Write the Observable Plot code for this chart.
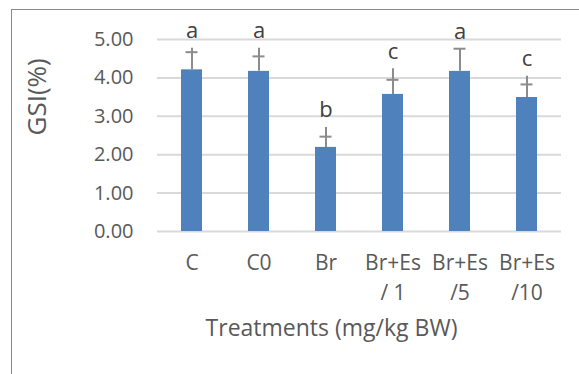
<!DOCTYPE html>
<html>
<head>
<meta charset="utf-8">
<script src="https://cdn.jsdelivr.net/npm/d3@7"></script>
<script src="https://cdn.jsdelivr.net/npm/@observablehq/plot@0.6"></script>
<style>
  html, body { margin: 0; padding: 0; background: #fff; }
  #wrap { position: relative; width: 579px; height: 374px; overflow: hidden; }
  #frame { position: absolute; left: 11px; top: 9px; width: 600px; height: 400px;
           border-left: 1.5px solid #8a8a8a; border-top: 1.5px solid #8a8a8a; box-sizing: border-box; }
  #chart { position: absolute; left: 0; top: 0; }
</style>
</head>
<body>
<div id="wrap"><div id="frame"></div><div id="chart"></div></div>
<script>
const categories = ["C", "C0", "Br", "Br+Es/1", "Br+Es/5", "Br+Es/10"];
const tickLabels = ["C", "C0", "Br", "Br+Es\n/ 1", "Br+Es\n/5", "Br+Es\n/10"];
const means      = [4.21, 4.17, 2.19, 3.57, 4.17, 3.49];
const capValues  = [4.67, 4.56, 2.47, 3.95, 4.76, 3.83];
const whiskerTop = [4.77, 4.77, 2.71, 4.24, 4.76, 4.04];
const letters    = ["a", "a", "b", "c", "a", "c"];
const yTicks     = [0, 1, 2, 3, 4, 5];

const data = categories.map((c, i) => ({
  cat: c, mean: means[i], cap: capValues[i], top: whiskerTop[i], letter: letters[i]
}));
const labelOf = new Map(categories.map((c, i) => [c, tickLabels[i]]));

const textColor = "#595959";
const font = "'Open Sans', sans-serif";

const chart = Plot.plot({
  width: 579,
  height: 374,
  marginLeft: 157,
  marginRight: 18,
  marginTop: 39,
  marginBottom: 143,
  style: { fontFamily: font, color: textColor, background: "transparent", overflow: "visible" },
  x: { domain: categories, paddingInner: 0.69, paddingOuter: 0.345, label: null },
  y: { domain: [0, 5], label: null },
  marks: [
    Plot.gridY(yTicks, { stroke: "#d9d9d9", strokeOpacity: 1, strokeWidth: 2 }),
    Plot.barY(data, { x: "cat", y: "mean", fill: "#4f81bd" }),
    Plot.ruleX(data, { x: "cat", y1: "mean", y2: "top", stroke: "#8c8c8c", strokeWidth: 2 }),
    Plot.tickY(data, { x: "cat", y: "cap", stroke: "#8c8c8c", strokeWidth: 2, insetLeft: 4.5, insetRight: 4.5 }),
    Plot.text(data, { x: "cat", y: "top", text: "letter", dy: -17, fontSize: 22, fill: "#404040", lineAnchor: "middle" }),
    Plot.axisY({ ticks: yTicks, tickSize: 0, tickPadding: 24, tickFormat: d3.format(".2f"), fontSize: 20, fill: textColor, label: null }),
    Plot.axisX({ tickSize: 0, tickPadding: 17, tickFormat: d => labelOf.get(d), fontSize: 21, lineHeight: 1.43, fill: textColor, label: null }),
    Plot.text(["GSI(%)"], { frameAnchor: "left", dx: -120, rotate: -90, fontSize: 26, fill: textColor }),
    Plot.text(["Treatments (mg/kg BW)"], { frameAnchor: "bottom", dx: -28, dy: 104, fontSize: 23, fill: textColor })
  ]
});
document.getElementById("chart").appendChild(chart);
</script>
</body>
</html>
